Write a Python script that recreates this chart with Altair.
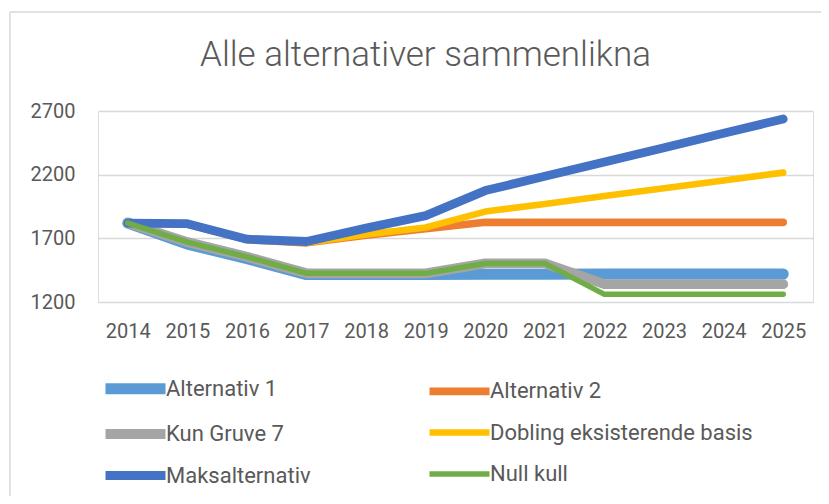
import altair as alt
import pandas as pd

years = ["2014", "2015", "2016", "2017", "2018", "2019", "2020", "2021", "2022", "2023", "2024", "2025"]
series_names = ["Alternativ 1", "Alternativ 2", "Kun Gruve 7", "Dobling eksisterende basis", "Maksalternativ", "Null kull"]
alternativ_1 = [1820, 1655, 1540, 1415, 1415, 1415, 1418, 1418, 1420, 1420, 1420, 1420]
alternativ_2 = [1820, 1812, 1690, 1665, 1725, 1775, 1826, 1826, 1826, 1826, 1826, 1826]
kun_gruve_7 = [1820, 1670, 1555, 1425, 1425, 1425, 1503, 1503, 1340, 1340, 1340, 1340]
dobling = [1820, 1812, 1690, 1665, 1730, 1785, 1910, 1970, 2032, 2093, 2155, 2216]
maksalternativ = [1820, 1815, 1693, 1675, 1780, 1878, 2075, 2187, 2300, 2412, 2525, 2637]
null_kull = [1820, 1670, 1555, 1425, 1425, 1425, 1503, 1503, 1260, 1260, 1260, 1260]
colors = ["#5B9BD5", "#ED7D31", "#A5A5A5", "#FFC000", "#4472C4", "#70AD47"]
widths = [11, 5.5, 5.5, 5.5, 5.5, 5.5]
y_ticks = [1200, 1700, 2200, 2700]
# legend fills column by column: reorder so rows read as in the reference
legend_order = [0, 2, 4, 1, 3, 5]

all_values = [alternativ_1, alternativ_2, kun_gruve_7, dobling, maksalternativ, null_kull]
rows = []
for i, (name, vals) in enumerate(zip(series_names, all_values)):
    for yr, v in zip(years, vals):
        rows.append({"year": yr, "value": v, "series": name, "draw": i})
df = pd.DataFrame(rows)

dom = [series_names[i] for i in legend_order]
col_rng = [colors[i] for i in legend_order]
w_rng = [widths[i] for i in legend_order]

FONT = "Roboto"
TXT = "#595959"
GRID = "#D9D9D9"

legend_kw = dict(title=None, orient="none", legendX=2, legendY=262, columns=2, padding=0,
                 symbolType="M-1,0L5,0", symbolSize=400, labelFontSize=22,
                 labelFont=FONT, labelColor=TXT, rowPadding=3, columnPadding=103,
                 labelOffset=35, labelLimit=400)

lines = alt.Chart(df).mark_line(strokeCap="round", strokeJoin="round").encode(
    x=alt.X("year:O", sort=years, scale=alt.Scale(type="point", padding=0.5),
            axis=alt.Axis(title=None, labelAngle=0, ticks=False, domain=True, domainColor=GRID,
                          labelFontSize=20, labelColor=TXT, labelFont=FONT, labelPadding=19, grid=False)),
    y=alt.Y("value:Q", scale=alt.Scale(domain=[1200, 2700], nice=False, zero=False),
            axis=alt.Axis(title=None, values=y_ticks, format="d", ticks=False, domain=False, gridColor=GRID,
                          gridWidth=1.3, labelFontSize=20, labelColor=TXT, labelFont=FONT, labelPadding=23)),
    color=alt.Color("series:N", sort=dom, scale=alt.Scale(domain=dom, range=col_rng),
                    legend=alt.Legend(**legend_kw)),
    strokeWidth=alt.StrokeWidth("series:N", sort=dom, scale=alt.Scale(domain=dom, range=w_rng),
                                legend=alt.Legend(**legend_kw)),
    order=alt.Order("draw:Q"),
)

border_df = pd.DataFrame({"k": [0]})
left_border = alt.Chart(border_df).mark_rule(color=GRID, strokeWidth=1.5).encode(
    x=alt.value(-88), y=alt.value(-99), y2=alt.value(420))
top_border = alt.Chart(border_df).mark_rule(color=GRID, strokeWidth=1.5).encode(
    x=alt.value(-88), x2=alt.value(740), y=alt.value(-99))

chart = alt.layer(left_border, top_border, lines).properties(
    width=715, height=191,
    autosize=alt.AutoSizeParams(type="none"),
    padding={"left": 90, "top": 103, "right": 8, "bottom": 194},
    title=alt.TitleParams("Alle alternativer sammenlikna", fontSize=35, font=FONT, fontWeight=300,
                          color=TXT, anchor="middle", dx=-30, offset=0, dy=90, baseline="alphabetic"),
).configure_view(stroke=None).configure(background="white")

chart.save("out.html", embed_options={"renderer": "svg", "actions": False})
